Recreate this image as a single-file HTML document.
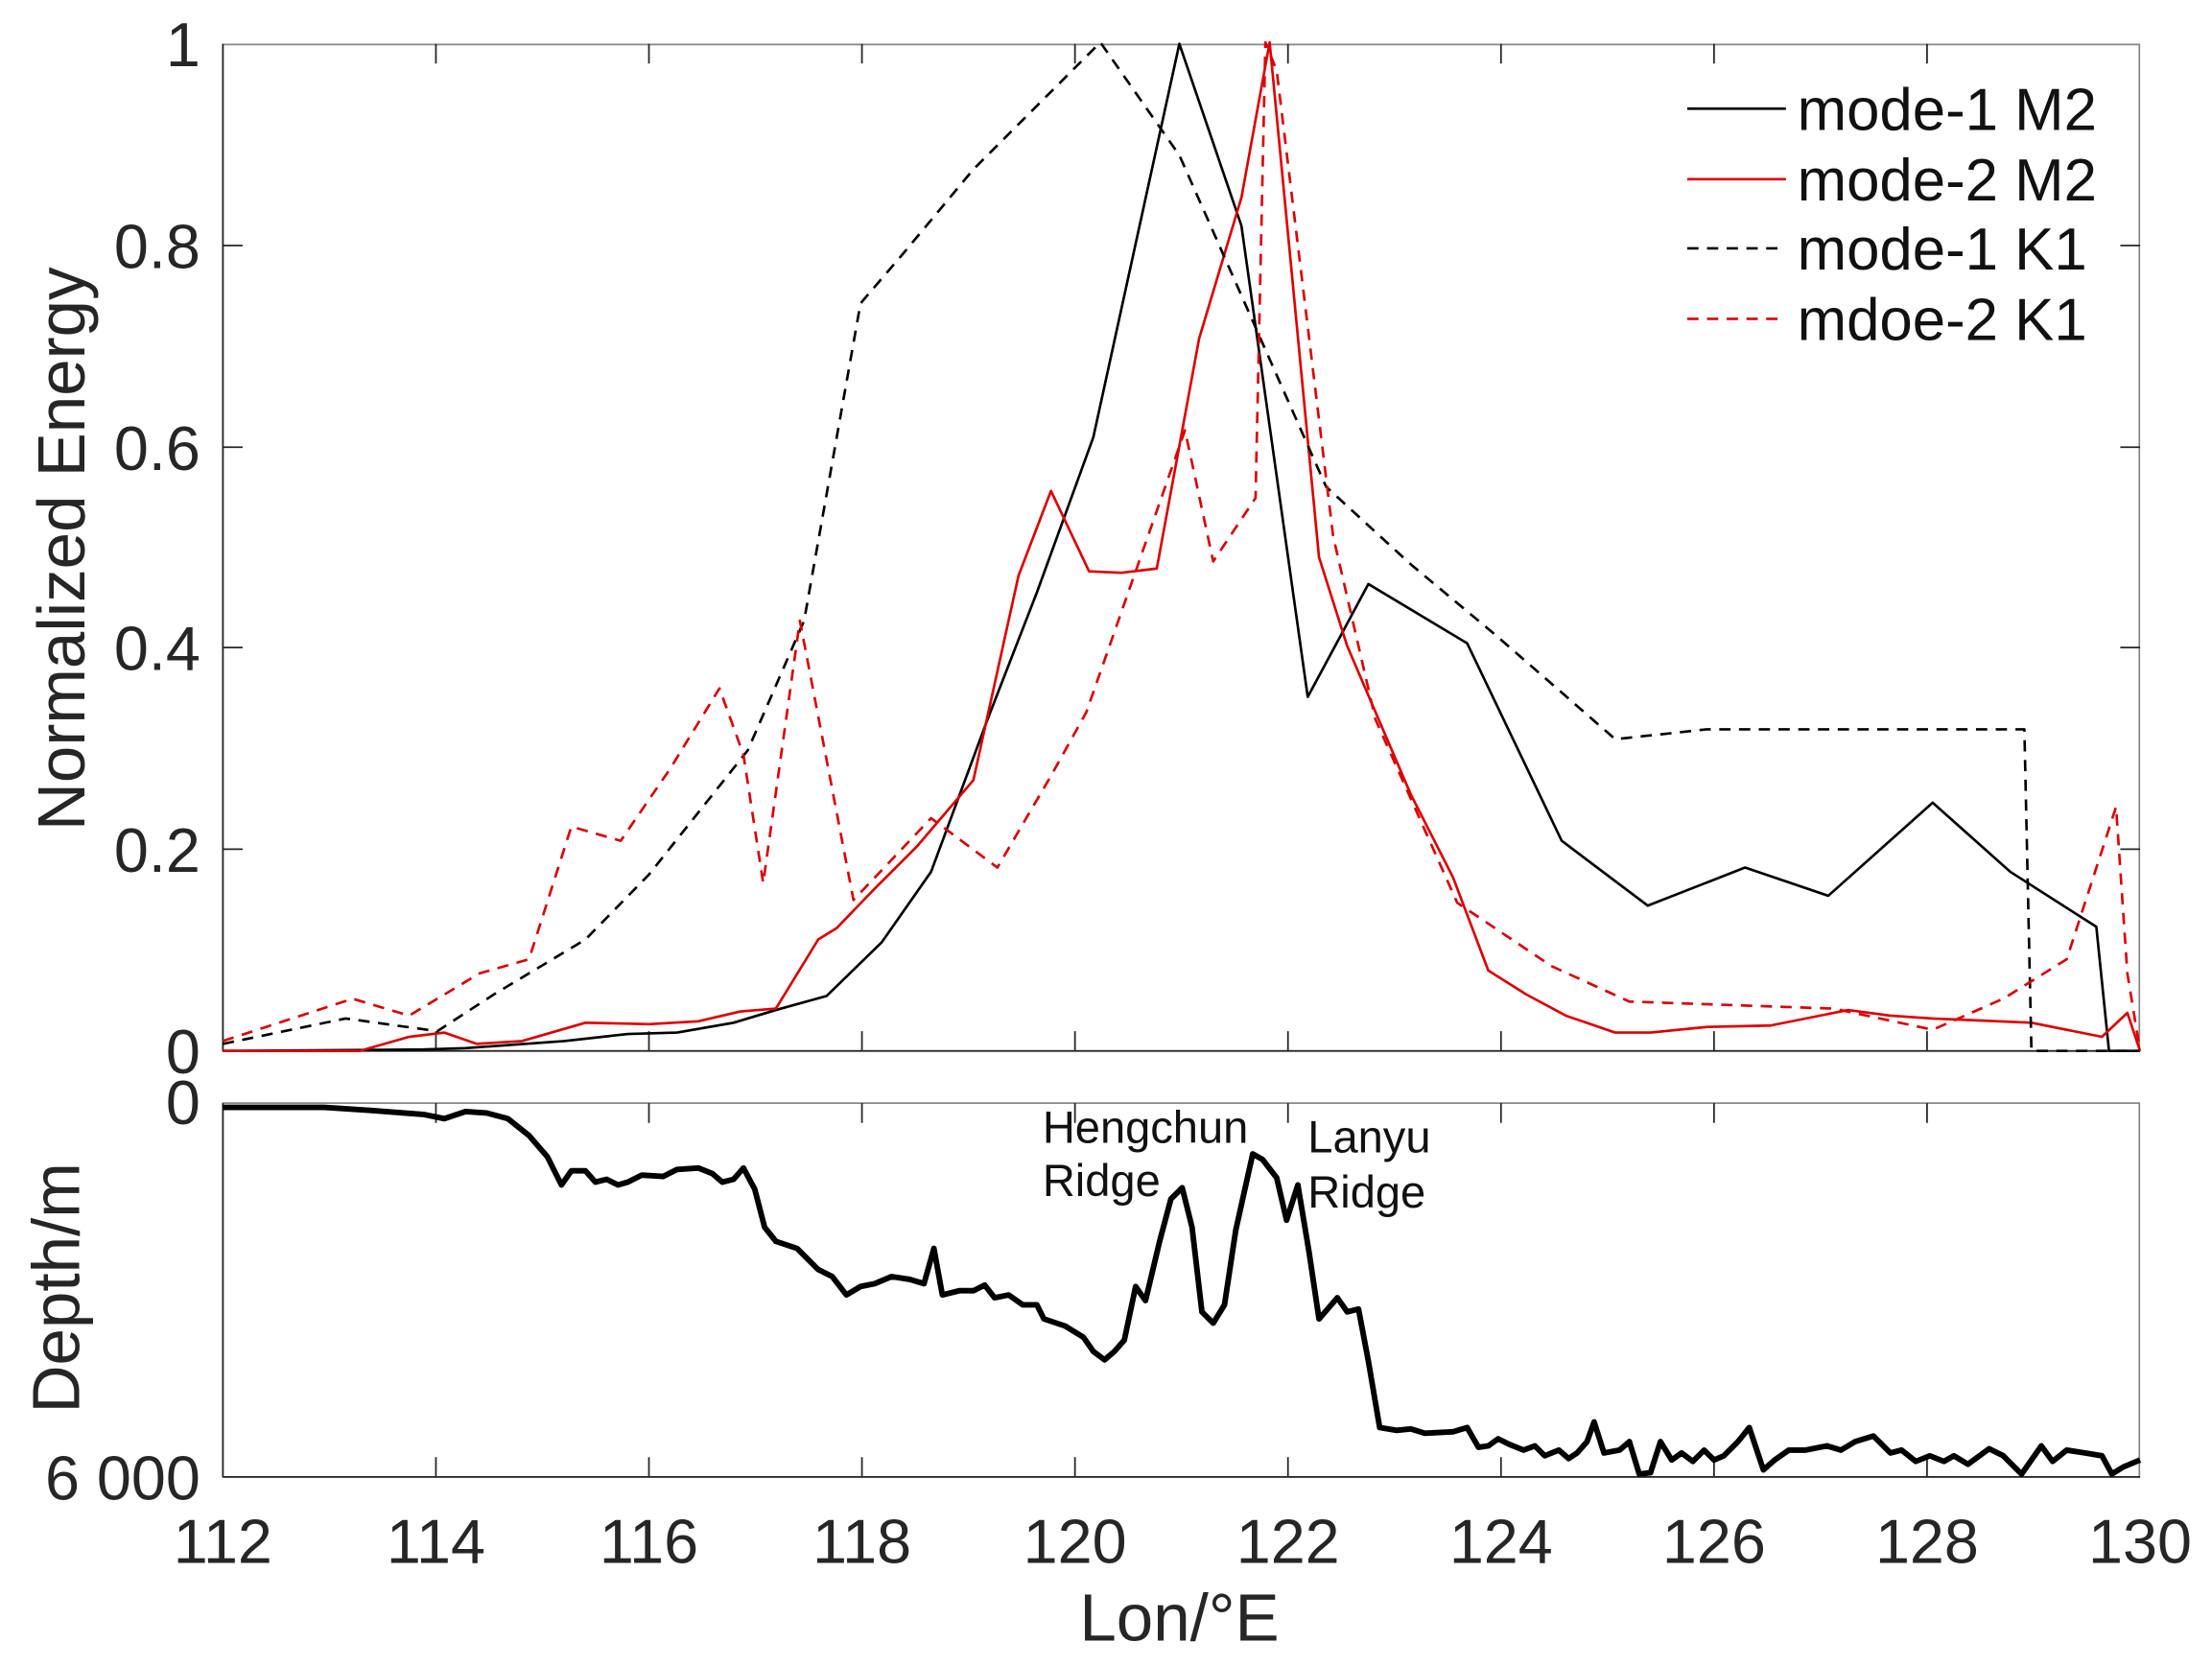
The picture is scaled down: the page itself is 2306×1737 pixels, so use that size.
<!DOCTYPE html>
<html><head><meta charset="utf-8"><style>html,body{margin:0;padding:0;background:#fff}svg{display:block}</style></head>
<body>
<svg width="2306" height="1737" viewBox="0 0 1568 1181" xmlns="http://www.w3.org/2000/svg" font-family="Liberation Sans, Arial, sans-serif">
<rect width="1568" height="1181" fill="#fff"/>
<g stroke="#262626" stroke-width="1.2" fill="none">
<rect x="158" y="31.5" width="1358.5" height="713.5" stroke="#888"/>
<path d="M158 745H1517"/>
<path d="M158 31V745"/>
<path d="M309 745v-14M460 745v-14M611 745v-14M762 745v-14M913 745v-14M1064 745v-14M1215 745v-14M1366 745v-14
M309 31v14M460 31v14M611 31v14M762 31v14M913 31v14M1064 31v14M1215 31v14M1366 31v14
M158 174h14M158 317h14M158 459h14M158 602h14M1517 174h-14M1517 317h-14M1517 459h-14M1517 602h-14"/>
</g>
<g stroke="#262626" stroke-width="1.2" fill="none">
<rect x="158" y="782" width="1358.5" height="265" stroke="#888"/>
<path d="M158 1047H1517M158 782V1047"/>
<path d="M309 1047v-14M460 1047v-14M611 1047v-14M762 1047v-14M913 1047v-14M1064 1047v-14M1215 1047v-14M1366 1047v-14
M309 782v14M460 782v14M611 782v14M762 782v14M913 782v14M1064 782v14M1215 782v14M1366 782v14"/>
</g>
<g fill="none" stroke-width="1.8" stroke-linejoin="round">
<polyline stroke="#000" points="158,745 300,744 330,743 400,738 445,733 480,732 520,725 550,716 586,706 625,668 660,618 700,510 735,420 775,310 836,31 880,160 927,494 970,414 1040,456 1107,596 1168,642 1237,615 1296,635 1370,569 1425,618 1486,657 1495,745 1517,745"/>
<polyline stroke="#e00000" points="158,745 255,745 290,735 315,732 338,740 370,738 415,725 460,726 495,724 525,717 550,715 580,666 593,658 620,630 650,600 690,553 722,408 745,348 772,405 795,406 820,403 850,240 880,140 900,30 935,395 955,458 1000,563 1030,622 1055,688 1082,705 1110,720 1145,732 1170,732 1210,728 1255,727 1310,716 1340,720 1370,722 1440,725 1490,735 1508,718 1517,745"/>
<polyline stroke="#000" stroke-dasharray="8,6" points="158,740 245,722 310,731 350,705 415,666 460,620 530,532 570,440 610,215 640,180 690,120 780,30 836,110 940,345 1000,400 1060,450 1145,524 1210,517 1435,517 1440,745 1517,745"/>
<polyline stroke="#e00000" stroke-dasharray="8,6" points="158,738 250,708 290,720 340,690 375,680 405,586 440,596 475,545 510,488 527,535 541,626 567,440 605,638 660,580 707,615 745,550 770,505 840,305 860,398 890,353 897,30 905,50 945,380 975,510 1033,640 1100,685 1155,710 1300,715 1370,730 1420,708 1465,680 1500,572 1508,690 1517,745"/>
<polyline stroke="#000" stroke-width="4" points="158,785 230,785 260,787 300,790 315,793 330,788 345,789 360,793 375,805 388,820 398,840 405,830 415,830 422,838 430,836 438,840 445,838 455,833 470,834 480,829 495,828 505,832 512,838 520,836 527,828 535,843 542,870 550,880 565,885 580,900 590,905 600,918 610,912 620,910 632,905 645,907 655,910 662,885 668,918 680,915 690,915 698,911 705,920 715,918 725,925 735,925 740,935 755,940 768,948 775,958 783,964 790,958 797,950 805,912 812,922 822,880 830,850 838,842 845,870 852,930 860,938 868,925 876,872 888,818 895,822 905,835 912,865 920,840 928,888 935,935 948,920 955,930 963,928 970,965 978,1012 990,1014 1000,1013 1010,1016 1030,1015 1040,1012 1048,1026 1055,1025 1062,1020 1070,1024 1080,1028 1088,1025 1095,1032 1105,1028 1112,1034 1118,1030 1125,1022 1130,1008 1137,1030 1148,1028 1155,1022 1162,1045 1170,1044 1177,1022 1185,1035 1192,1030 1200,1036 1208,1028 1215,1035 1222,1032 1232,1022 1240,1012 1250,1042 1258,1035 1268,1028 1280,1028 1295,1025 1305,1028 1315,1022 1328,1018 1340,1030 1348,1028 1358,1036 1368,1032 1378,1036 1385,1032 1395,1038 1410,1027 1420,1032 1433,1045 1447,1025 1455,1036 1465,1028 1478,1030 1490,1032 1497,1045 1505,1040 1517,1035"/>
</g>
<g stroke-width="1.8">
<line x1="1196" y1="77" x2="1266" y2="77" stroke="#000"/>
<line x1="1196" y1="127" x2="1266" y2="127" stroke="#e00000"/>
<line x1="1196" y1="176" x2="1266" y2="176" stroke="#000" stroke-dasharray="8,6"/>
<line x1="1196" y1="226" x2="1266" y2="226" stroke="#e00000" stroke-dasharray="8,6"/>
</g>
<g font-size="42" fill="#111">
<text x="1274" y="92">mode-1 M2</text>
<text x="1274" y="142">mode-2 M2</text>
<text x="1274" y="191">mode-1 K1</text>
<text x="1274" y="241">mdoe-2 K1</text>
</g>
<g font-size="44" fill="#262626" text-anchor="end">
<text x="142" y="47">1</text>
<text x="142" y="190">0.8</text>
<text x="142" y="333">0.6</text>
<text x="142" y="475">0.4</text>
<text x="142" y="618">0.2</text>
<text x="142" y="761">0</text>
<text x="142" y="797">0</text>
<text x="142" y="1063">6 000</text>
</g>
<g font-size="44" fill="#262626" text-anchor="middle">
<text x="158" y="1108">112</text><text x="309" y="1108">114</text><text x="460" y="1108">116</text><text x="611" y="1108">118</text><text x="762" y="1108">120</text><text x="913" y="1108">122</text><text x="1064" y="1108">124</text><text x="1215" y="1108">126</text><text x="1366" y="1108">128</text><text x="1517" y="1108">130</text>
<text x="836" y="1163" font-size="47">Lon/°E</text>
<text transform="translate(60,389) rotate(-90)" font-size="47">Normalized Energy</text>
<text transform="translate(56,913) rotate(-90)" font-size="47">Depth/m</text>
</g>
<g font-size="32" fill="#111">
<text x="739" y="810">Hengchun</text><text x="739" y="848">Ridge</text>
<text x="927" y="817">Lanyu</text><text x="927" y="856">Ridge</text>
</g>
</svg>
</body></html>
